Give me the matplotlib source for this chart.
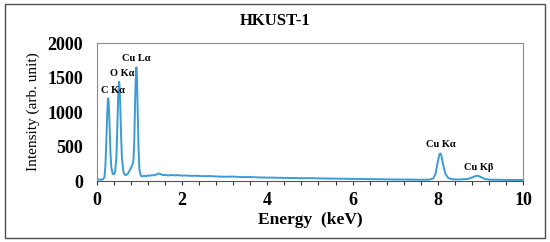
#!/usr/bin/env python3
"""EDS spectrum of HKUST-1."""

import matplotlib

matplotlib.use("Agg")
import matplotlib.pyplot as plt
from matplotlib.patches import Rectangle
from matplotlib.ticker import MultipleLocator

plt.rcParams["font.family"] = ["Liberation Serif", "DejaVu Serif"]

# spectrum (keV, counts)
ENERGY = [
    0.00, 0.05, 0.10, 0.15, 0.18, 0.20, 0.22, 0.24, 0.26, 0.27, 0.28, 0.30,
    0.32, 0.34, 0.37, 0.40, 0.43, 0.46, 0.48, 0.50, 0.52, 0.53, 0.55, 0.57,
    0.59, 0.62, 0.65, 0.68, 0.72, 0.76, 0.80, 0.84, 0.86, 0.88, 0.90, 0.92,
    0.93, 0.94, 0.96, 0.98, 1.00, 1.03, 1.06, 1.10, 1.15, 1.20, 1.25, 1.30,
    1.35, 1.40, 1.45, 1.50, 1.55, 1.60, 1.70, 1.75, 1.80, 1.90, 2.00, 2.10,
    2.20, 2.35, 2.50, 2.65, 2.80, 3.00, 3.20, 3.40, 3.60, 3.80, 4.00, 4.20,
    4.40, 4.60, 4.80, 5.00, 5.20, 5.40, 5.60, 5.80, 6.00, 6.20, 6.40, 6.60,
    6.80, 7.00, 7.20, 7.40, 7.60, 7.80, 7.90, 7.95, 8.00, 8.04, 8.06, 8.08,
    8.12, 8.18, 8.25, 8.35, 8.50, 8.70, 8.80, 8.90, 8.95, 9.00, 9.10, 9.20,
    9.40, 9.60, 9.80, 10.00,
]
COUNTS = [
    25, 22, 20, 25, 60, 200, 520, 900, 1190, 1200, 1120, 800,
    420, 200, 110, 95, 130, 350, 750, 1200, 1440, 1420, 1100, 650,
    330, 150, 95, 85, 100, 140, 190, 240, 300, 600, 1200, 1600,
    1650, 1560, 1000, 450, 160, 80, 65, 75, 70, 80, 78, 85,
    82, 95, 110, 100, 85, 88, 80, 90, 82, 85, 78, 80,
    74, 76, 70, 72, 66, 62, 64, 56, 58, 52, 50, 48,
    45, 44, 40, 42, 38, 36, 34, 33, 30, 30, 27, 26,
    24, 22, 22, 20, 18, 20, 40, 110, 280, 390, 400, 380,
    250, 100, 40, 25, 22, 30, 50, 75, 75, 60, 30, 20,
    18, 16, 15, 15,
]

PEAK_LABELS = ["C K\u03b1", "O K\u03b1", "Cu L\u03b1", "Cu K\u03b1", "Cu K\u03b2"]
PEAK_ENERGY = [0.27, 0.52, 0.93, 8.06, 8.92]
PEAK_COUNTS = [1200, 1440, 1650, 400, 75]
# label offsets from the peak top, in points
LABEL_OFFSET = [(3, 2), (2, 3), (0, 3), (0, 3), (1, 3)]


def main() -> None:
    fig = plt.figure(figsize=(5.5, 2.42), dpi=100)
    ax = fig.add_axes([0.176, 0.252, 0.775, 0.570])

    fig.patches.append(
        Rectangle(
            (0.009, 0.016), 0.982, 0.967,
            transform=fig.transFigure, fill=False,
            edgecolor="#4d4d4d", lw=1.0,
        )
    )

    ax.plot(ENERGY, COUNTS, color="#3b9bd6", lw=1.4)

    for lab, e, c, off in zip(PEAK_LABELS, PEAK_ENERGY, PEAK_COUNTS, LABEL_OFFSET):
        ax.annotate(
            lab, xy=(e, c), xytext=off, textcoords="offset points",
            ha="center", va="bottom", fontsize=7.5, fontweight="bold",
        )

    ax.set_xlim(0, 10)
    ax.set_ylim(0, 2000)
    ax.xaxis.set_major_locator(MultipleLocator(2))
    ax.xaxis.set_minor_locator(MultipleLocator(0.4))
    ax.yaxis.set_major_locator(MultipleLocator(500))
    ax.tick_params(axis="x", which="both", direction="out", length=3,
                   width=0.8, color="#333333", pad=5, labelsize=13)
    ax.tick_params(axis="y", length=0, pad=10, labelsize=13)
    for lab in ax.get_xticklabels() + ax.get_yticklabels():
        lab.set_fontweight("bold")

    for side in ("top", "right", "left"):
        ax.spines[side].set_color("#8c8c8c")
        ax.spines[side].set_linewidth(0.8)
    ax.spines["bottom"].set_color("#555555")
    ax.spines["bottom"].set_linewidth(0.8)

    ax.set_xlabel("Energy  (keV)", fontsize=12.5, fontweight="bold", labelpad=2)
    ax.set_ylabel("Intensity (arb. unit)", fontsize=11, labelpad=5)
    fig.text(0.5, 0.915, "HKUST-1", ha="center", va="center",
             fontsize=12, fontweight="bold")

    fig.savefig("out.png", dpi=100)


if __name__ == "__main__":
    main()
